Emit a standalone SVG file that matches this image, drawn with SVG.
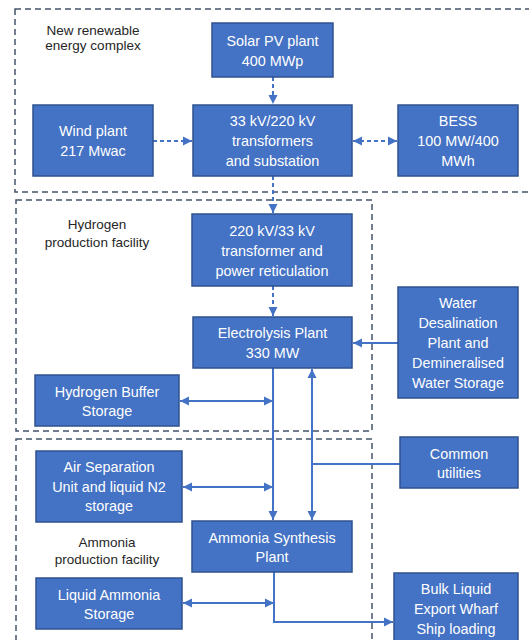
<svg xmlns="http://www.w3.org/2000/svg" width="529" height="640" viewBox="0 0 529 640">
<defs>
<style>
.region{fill:none;stroke:#44546A;stroke-width:1.5;stroke-dasharray:6 4}
.lbl{font-family:"Liberation Sans",Arial,sans-serif;font-size:13.5px;fill:#262626;text-anchor:middle}
.box{fill:#4472C4;stroke:#2F528F;stroke-width:1.5}
.t{font-family:"Liberation Sans",Arial,sans-serif;font-size:14.4px;fill:#FFFFFF;text-anchor:middle}
.c{fill:none;stroke:#4472C4;stroke-width:2}
.d{stroke-dasharray:4 3}
</style>
<marker id="ah" markerUnits="userSpaceOnUse" markerWidth="10" markerHeight="10" refX="9" refY="5" orient="auto">
<path d="M0,0.5 L9,5 L0,9.5 Z" fill="#4472C4"/>
</marker>
<marker id="as" markerUnits="userSpaceOnUse" markerWidth="10" markerHeight="10" refX="0" refY="5" orient="auto">
<path d="M9,0.5 L0,5 L9,9.5 Z" fill="#4472C4"/>
</marker>
</defs>
<rect width="529" height="640" fill="#FFFFFF"/>
<g id="regions">
<rect class="region" x="15" y="9" width="530" height="183"/>
<rect class="region" x="16" y="200" width="356" height="231"/>
<rect class="region" x="16" y="439" width="356" height="230"/>
<text class="lbl"><tspan x="93" y="35">New renewable</tspan><tspan x="93" y="50">energy complex</tspan></text>
<text class="lbl"><tspan x="97" y="229">Hydrogen</tspan><tspan x="97" y="247">production facility</tspan></text>
<text class="lbl"><tspan x="107" y="547">Ammonia</tspan><tspan x="107" y="564">production facility</tspan></text>
</g>
<g id="connectors">
<line class="c d" x1="273" y1="77" x2="273" y2="104" marker-end="url(#ah)"/>
<line class="c d" x1="153" y1="141" x2="192" y2="141" marker-end="url(#ah)"/>
<line class="c d" x1="353" y1="141" x2="397" y2="141" marker-start="url(#as)" marker-end="url(#ah)"/>
<line class="c d" x1="273" y1="176" x2="273" y2="213" marker-end="url(#ah)"/>
<line class="c d" x1="273" y1="286" x2="273" y2="316" marker-end="url(#ah)"/>
<line class="c" x1="398" y1="343" x2="353" y2="343" marker-end="url(#ah)"/>
<line class="c" x1="273" y1="368" x2="273" y2="520" marker-end="url(#ah)"/>
<line class="c" x1="180" y1="401" x2="273" y2="401" marker-start="url(#as)" marker-end="url(#ah)"/>
<line class="c" x1="183" y1="487" x2="273" y2="487" marker-start="url(#as)" marker-end="url(#ah)"/>
<line class="c" x1="400" y1="464" x2="312" y2="464"/>
<line class="c" x1="312" y1="464" x2="312" y2="369" marker-end="url(#ah)"/>
<line class="c" x1="312" y1="464" x2="312" y2="520" marker-end="url(#ah)"/>
<line class="c" x1="183" y1="603" x2="274" y2="603" marker-start="url(#as)" marker-end="url(#ah)"/>
<polyline class="c" points="274,572 274,622 393,622" marker-end="url(#ah)"/>
</g>
<g id="solar"><rect class="box" x="212" y="23" width="121" height="54"/><text class="t"><tspan x="272.5" y="46">Solar PV plant</tspan><tspan x="272.5" y="66">400 MWp</tspan></text></g>
<g id="wind"><rect class="box" x="33" y="105" width="120" height="71"/><text class="t"><tspan x="93" y="136">Wind plant</tspan><tspan x="93" y="156">217 Mwac</tspan></text></g>
<g id="substation"><rect class="box" x="193" y="105" width="159" height="71"/><text class="t"><tspan x="272.5" y="126">33 kV/220 kV</tspan><tspan x="272.5" y="146">transformers</tspan><tspan x="272.5" y="166">and substation</tspan></text></g>
<g id="bess"><rect class="box" x="398" y="105" width="120" height="71"/><text class="t"><tspan x="458" y="126">BESS</tspan><tspan x="458" y="146">100 MW/400</tspan><tspan x="458" y="166">MWh</tspan></text></g>
<g id="reticulation"><rect class="box" x="192" y="214" width="160" height="72"/><text class="t"><tspan x="272" y="236">220 kV/33 kV</tspan><tspan x="272" y="256">transformer and</tspan><tspan x="272" y="276">power reticulation</tspan></text></g>
<g id="electrolysis"><rect class="box" x="193" y="317" width="159" height="51"/><text class="t"><tspan x="272.5" y="338">Electrolysis Plant</tspan><tspan x="272.5" y="358">330 MW</tspan></text></g>
<g id="water"><rect class="box" x="398" y="287" width="120" height="111"/><text class="t"><tspan x="458" y="308">Water</tspan><tspan x="458" y="328">Desalination</tspan><tspan x="458" y="348">Plant and</tspan><tspan x="458" y="368">Demineralised</tspan><tspan x="458" y="388">Water Storage</tspan></text></g>
<g id="h2buffer"><rect class="box" x="35" y="375" width="144" height="51"/><text class="t"><tspan x="107" y="397">Hydrogen Buffer</tspan><tspan x="107" y="416">Storage</tspan></text></g>
<g id="utilities"><rect class="box" x="400" y="437" width="118" height="51"/><text class="t"><tspan x="459" y="459">Common</tspan><tspan x="459" y="478">utilities</tspan></text></g>
<g id="asu"><rect class="box" x="36" y="451" width="146" height="71"/><text class="t"><tspan x="109" y="472">Air Separation</tspan><tspan x="109" y="492">Unit and liquid N2</tspan><tspan x="109" y="511">storage</tspan></text></g>
<g id="synthesis"><rect class="box" x="192" y="521" width="160" height="51"/><text class="t"><tspan x="272" y="543">Ammonia Synthesis</tspan><tspan x="272" y="562">Plant</tspan></text></g>
<g id="nh3storage"><rect class="box" x="36" y="578" width="146" height="51"/><text class="t"><tspan x="109" y="600">Liquid Ammonia</tspan><tspan x="109" y="619">Storage</tspan></text></g>
<g id="wharf"><rect class="box" x="394" y="573" width="124" height="80"/><text class="t"><tspan x="456" y="594">Bulk Liquid</tspan><tspan x="456" y="614">Export Wharf</tspan><tspan x="456" y="634">Ship loading</tspan></text></g>
</svg>
